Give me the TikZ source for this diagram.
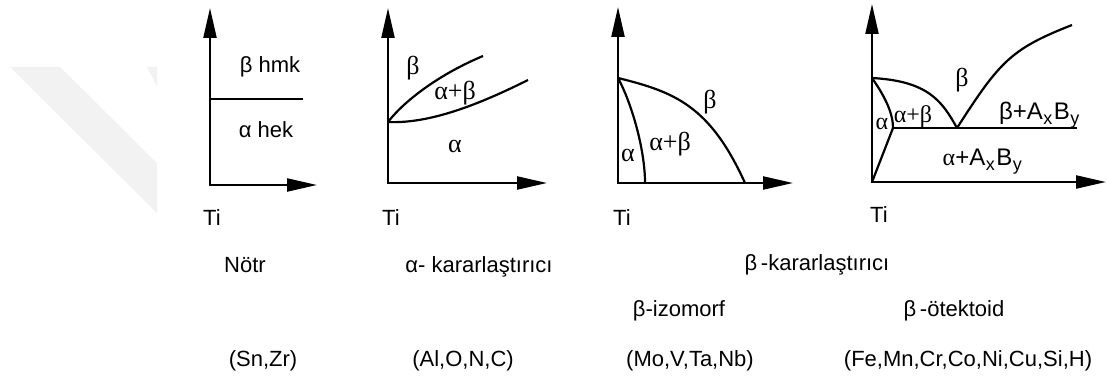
\documentclass[tikz,border=0pt]{standalone}
\usepackage{fontspec}
\setmainfont{Liberation Sans}
\newfontfamily\serfont{Liberation Serif}
\usetikzlibrary{arrows.meta}
\newcommand{\sbx}[1]{\kern0.5pt\raisebox{-0.45ex}{\fontsize{18}{18}\selectfont #1}\kern1.5pt}
\begin{document}
\begin{tikzpicture}[x=1pt,y=-1pt,
  axes/.style={line width=2.2pt,line join=miter,
    {Triangle[length=30pt,width=13pt]}-{Triangle[length=30pt,width=13pt]}},
  curve/.style={line width=2.2pt},
  lbl/.style={inner sep=0pt,font=\fontsize{22}{26}\selectfont},
  glbl/.style={inner sep=0pt,font=\fontsize{26}{30}\selectfont\serfont},
  captxt/.style={inner sep=0pt,anchor=base,font=\fontsize{22}{26}\selectfont},
  captw/.style={inner sep=0pt,anchor=base west,font=\fontsize{22}{26}\selectfont},
]
\useasboundingbox (0,0) rectangle (1107,377);
% watermark
\fill[gray!10] (10,67) -- (60,67) -- (157,163) -- (157,213) -- cycle;
\fill[gray!10] (147,67) -- (157,67) -- (157,87) -- cycle;

% ---------- diagram 1 ----------
\coordinate (o1) at (210,185);
\coordinate (y1) at (210,8);
\coordinate (x1) at (317,185);
\coordinate (h1a) at (210,99);
\coordinate (h1b) at (303,99);
\draw[axes] (y1) -- (o1) -- (x1);
\draw[curve] (h1a) -- (h1b);
\node[lbl] (b1) at (270,67) {β hmk};
\node[lbl] (a1) at (266,130) {α hek};

% ---------- diagram 2 ----------
\coordinate (o2) at (388,183);
\coordinate (y2) at (388,8);
\coordinate (x2) at (547,183);
\coordinate (j2) at (388,122);
\coordinate (u2) at (483,56);
\coordinate (l2) at (528,80);
\draw[axes] (y2) -- (o2) -- (x2);
\draw[curve] (j2) .. controls (405,100) and (440,74) .. (u2);
\draw[curve] (j2) .. controls (430,124) and (480,104) .. (l2);
\node[glbl] (b2) at (413,68) {β};
\node[glbl] (ab2) at (455,93) {α+β};
\node[glbl] (a2) at (455,146) {α};

% ---------- diagram 3 ----------
\coordinate (o3) at (618,183);
\coordinate (y3) at (618,7);
\coordinate (x3) at (793,183);
\coordinate (t3) at (618,78);
\coordinate (e3) at (745,183);
\coordinate (i3) at (645,183);
\draw[axes] (y3) -- (o3) -- (x3);
\draw[curve] (t3) .. controls (675,92) and (710,106) .. (e3);
\draw[curve] (t3) .. controls (632,104) and (645,150) .. (i3);
\node[glbl] (b3) at (710,102) {β};
\node[glbl] (ab3) at (670,144) {α+β};
\node[glbl] (a3) at (628,155) {α};

% ---------- diagram 4 ----------
\coordinate (o4) at (872,182);
\coordinate (y4) at (872,4);
\coordinate (x4) at (1106,182);
\coordinate (t4) at (872,78);
\coordinate (eu4) at (957,128);
\coordinate (r4) at (1072,25);
\coordinate (k4) at (893,128);
\coordinate (h4) at (1077,128);
\draw[axes] (y4) -- (o4) -- (x4);
\draw[curve] (t4) .. controls (928,81) and (942,101) .. (eu4);
\draw[curve] (eu4) .. controls (1000,61) and (1011,49) .. (r4);
\draw[curve] (t4) .. controls (886,98) and (893,114) .. (k4);
\draw[curve] (k4) -- (o4);
\draw[curve] (k4) -- (h4);
\node[glbl] (b4) at (962,80) {β};
\node[glbl,font=\fontsize{24}{28}\selectfont\serfont] (ab4) at (913,117) {α+β};
\node[glbl,font=\fontsize{24}{28}\selectfont\serfont] (a4) at (882,124) {α};
\node[captxt,font=\fontsize{24}{28}\selectfont] (bab4) at (1040,119) {β+A\sbx{x}B\sbx{y}};
\node[captxt,font=\fontsize{24}{28}\selectfont] (aab4) at (983,165) {{\serfont α}+A\sbx{x}B\sbx{y}};

% ---------- captions ----------
\node[captw] (ti1) at (203,225) {Ti};
\node[captw] (ti2) at (382,225) {Ti};
\node[captw] (ti3) at (613,225) {Ti};
\node[captw] (ti4) at (870,222) {Ti};
\node[captxt] (notr) at (245,272) {Nötr};
\node[captxt] (ak) at (479,272) {α- kararlaştırıcı};
\node[captxt] (bk) at (817,270) {β\,-kararlaştırıcı};
\node[captxt] (biz) at (679,316) {β-izomorf};
\node[captxt] (bot) at (954,316) {β\,-ötektoid};
\node[captxt] (e1) at (263,366) {(Sn,Zr)};
\node[captxt] (e2) at (463,366) {(Al,O,N,C)};
\node[captxt] (e3t) at (690,366) {(Mo,V,Ta,Nb)};
\node[captxt] (e4) at (968,366) {(Fe,Mn,Cr,Co,Ni,Cu,Si,H)};
\end{tikzpicture}
\end{document}
